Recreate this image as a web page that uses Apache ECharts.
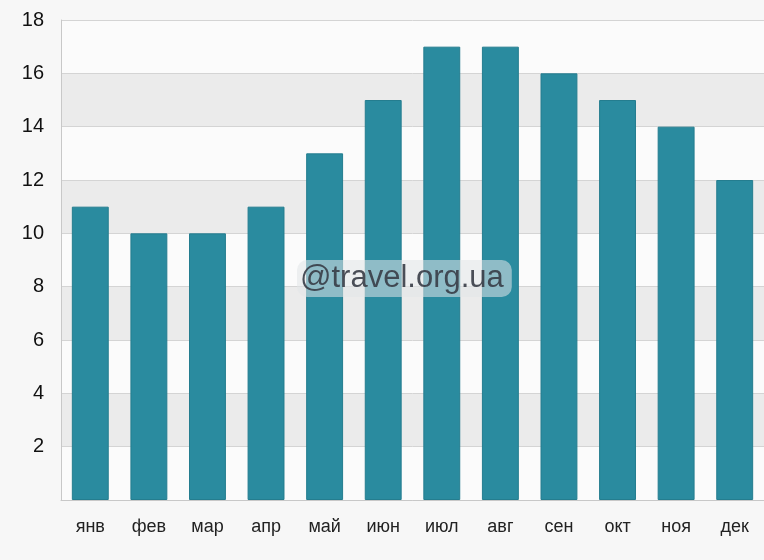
<!DOCTYPE html>
<html><head><meta charset="utf-8">
<script src="https://cdn.jsdelivr.net/npm/echarts@6/dist/echarts.min.js"></script>
<style>html,body{margin:0;padding:0;background:#f7f7f7}#c{width:764px;height:560px}</style>
</head><body><div id="c"></div>
<script>
const months = ['янв','фев','мар','апр','май','июн','июл','авг','сен','окт','ноя','дек'];
const values = [11,10,10,11,13,15,17,17,16,15,14,12];
const yTicks = [0,2,4,6,8,10,12,14,16,18];

const chart = echarts.init(document.getElementById('c'));
chart.setOption({
  backgroundColor: '#f7f7f7',
  animation: false,
  grid: {left: 61, right: -4, top: 20, bottom: 60, containLabel: false},
  xAxis: {
    type: 'category', data: months,
    axisLine: {lineStyle: {color: '#c8c8c8', width: 1}},
    axisTick: {show: false},
    axisLabel: {color: '#222', fontSize: 18, fontFamily: 'Liberation Sans, Arial, sans-serif', margin: 18}
  },
  yAxis: {
    type: 'value', min: yTicks[0], max: yTicks[yTicks.length-1], interval: 2,
    axisLine: {show: true, lineStyle: {color: '#c8c8c8'}},
    axisTick: {show: false},
    axisLabel: {color: '#111', fontSize: 20, fontFamily: 'Liberation Sans, Arial, sans-serif', margin: 17,
      formatter: v => v === 0 ? '' : String(v)},
    splitLine: {show: true, lineStyle: {color: '#d4d4d4', width: 1}},
    splitArea: {show: true, areaStyle: {color: ['#fbfbfb', '#ebebeb']}}
  },
  series: [{
    type: 'bar', data: values, barWidth: '63%',
    itemStyle: {color: '#2a8b9f', borderColor: '#247d8f', borderWidth: 1}
  }],
  graphic: [{
    type: 'text', left: 297, top: 260, z: 100,
    style: {
      text: '@travel.org.ua', fill: 'rgba(55,60,70,0.9)', fontSize: 31,
      fontFamily: 'Liberation Sans, Arial, sans-serif',
      backgroundColor: 'rgba(225,230,232,0.55)', borderRadius: 10, padding: [3, 8, 3, 3]
    }
  }]
});
</script></body></html>
